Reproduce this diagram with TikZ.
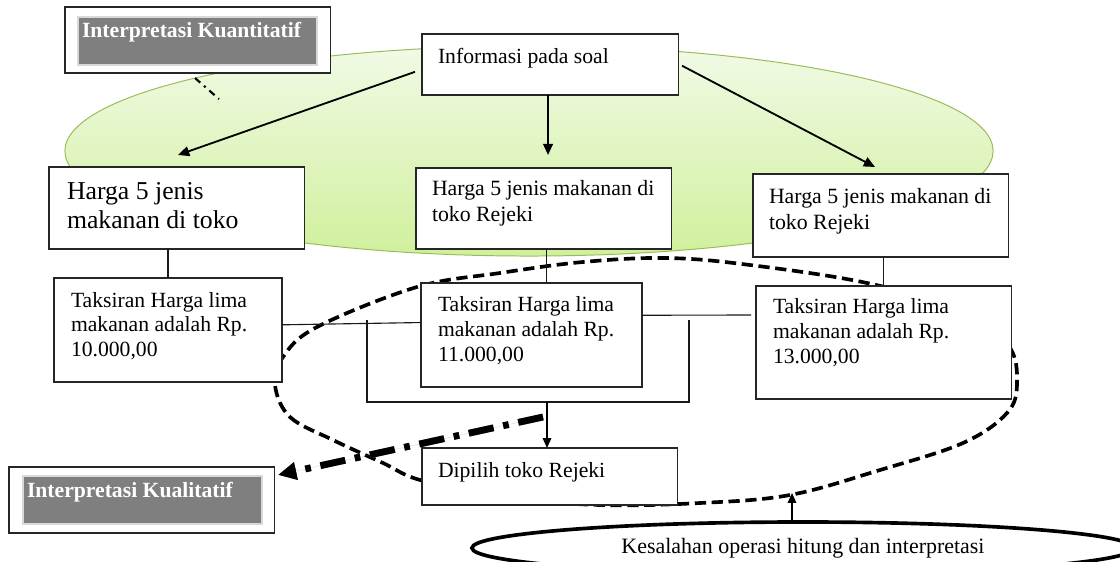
\documentclass[tikz,border=0pt]{standalone}
\usepackage{fontspec}
\setmainfont{Liberation Serif}
\usetikzlibrary{shapes.geometric,arrows.meta,calc}
\newlength{\px}\setlength{\px}{0.71131pt}
\newcommand{\bx}[5]{\parbox[c][#2\px][t]{#1\px}{\raggedright\leftskip=#3\px\relax\rule{0pt}{#4\px}#5\par}}
\definecolor{gborder}{HTML}{9BBB59}
\definecolor{gtop}{HTML}{F1FAE6}
\definecolor{gbot}{HTML}{D0F09C}
\definecolor{greyfill}{HTML}{7F7F7F}
\begin{document}
\begin{tikzpicture}[x=0.025cm, y=-0.025cm,
  box/.style={draw=black!85, fill=white, line width=0.8pt, inner sep=0pt, outer sep=0pt, anchor=north west},
  greybox/.style={fill=greyfill, draw=black!15, line width=0.8pt, inner sep=0pt, outer sep=0pt, anchor=north west, text=white, font=\fontsize{15.4pt}{17.6pt}\selectfont\bfseries},
  txt/.style={font=\fontsize{15.4pt}{17.6pt}\selectfont},
  conn/.style={line width=0.8pt, draw=black!90},
  arr/.style={line width=1.3pt, -{Triangle[length=8pt,width=7pt]}},
  thinarr/.style={line width=1.1pt, -{Triangle[length=7pt,width=6pt]}},
  dashloop/.style={line width=2.6pt, dash pattern=on 8pt off 4pt},
  dashdot/.style={line width=4.8pt, dash pattern=on 18pt off 7pt on 4pt off 7pt, -{Triangle[length=13pt,width=12pt]}}
]
\useasboundingbox (0,0) rectangle (1120,561);

% green background ellipse
\node[ellipse, draw=gborder, line width=0.7pt, top color=gtop, bottom color=gbot,
      minimum width=928\px, minimum height=210\px, inner sep=0pt] (bg) at (529,151) {};

% dashed loop
\draw[dashloop] plot[smooth cycle, tension=0.6] coordinates {(275,385) (290,417) (333,440) (383,463) (420,480) (500,497) (600,505) (700,503) (790,495) (880,470) (963,443) (1007,413) (1017,383) (1008,345) (960,310) (867,283) (750,265) (667,258) (583,262) (500,273) (417,287) (317,327) (283,357)};

% label boxes
\node[box] (kuan) at (65,7) {\bx{265}{66}{0}{0}{}};
\node[greybox] (kuanin) at (78,17) {\bx{239}{48}{4}{20}{Interpretasi Kuantitatif}};
\node[box] (kual) at (9,467) {\bx{265}{66}{0}{0}{}};
\node[greybox] (kualin) at (23,476) {\bx{239}{48}{4}{21}{Interpretasi Kualitatif}};

% main boxes
\node[box, txt] (info) at (422,34) {\bx{256}{61}{16}{29}{Informasi pada soal}};
\node[box, font=\fontsize{18.3pt}{21.3pt}\selectfont] (hl) at (49,167) {\bx{255}{82}{18}{32}{Harga 5 jenis\\makanan di toko}};
\node[box, font=\fontsize{15.5pt}{18.5pt}\selectfont] (hm) at (416,168) {\bx{255}{81}{16}{27}{Harga 5 jenis makanan di\\toko Rejeki}};
\node[box, font=\fontsize{15.5pt}{18.5pt}\selectfont] (hr) at (753,174) {\bx{255}{83}{16}{29}{Harga 5 jenis makanan di\\toko Rejeki}};
\node[box, font=\fontsize{15.4pt}{17.6pt}\selectfont] (tl) at (54,278) {\bx{228}{104}{17}{29}{Taksiran Harga lima\\makanan adalah Rp.\\10.000,00}};
\node[box, font=\fontsize{15.4pt}{17.8pt}\selectfont] (tm) at (421,283) {\bx{221}{104}{17}{28}{Taksiran Harga lima\\makanan adalah Rp.\\11.000,00}};
\node[box, font=\fontsize{15.4pt}{17.8pt}\selectfont] (tr) at (756,286) {\bx{255}{113}{17}{27}{Taksiran Harga lima\\makanan adalah Rp.\\13.000,00}};
\node[box, txt] (dp) at (422,448) {\bx{255}{57}{16}{29}{Dipilih toko Rejeki}};

% error ellipse
\node[ellipse, draw, line width=2.6pt, minimum width=662\px, minimum height=52\px, inner sep=0pt,
      font=\fontsize{15.6pt}{18pt}\selectfont] (kes) at (803,548) {Kesalahan operasi hitung dan interpretasi};

% arrows from Informasi
\draw[arr] ($(info.north west)!0.62!(info.south west)+(-7,0)$) -- ($(hl.north)+(1.5,-12)$);
\draw[arr] ($(info.south)+(-2,0)$) -- ($(hm.north)+(4.5,-13)$);
\draw[arr] ($(info.north east)!0.52!(info.south east)+(4,0)$) -- ($(hr.north)+(-5.5,-7)$);

% vertical connectors
\draw[conn] (tl.north) -- (tl.north |- hl.south);
\draw[conn] (hm.south) ++(3,0) coordinate (m1) -- (m1 |- tm.north);
\draw[conn] (tr.north) -- (tr.north |- hr.south);

% horizontal connectors
\draw[conn] ($(tl.north east)!0.45!(tl.south east)$) -- ($(tm.north west)!0.38!(tm.south west)$);
\coordinate (rend) at (751,315);
\draw[conn] ($(tm.north east)!0.31!(tm.south east)$) -- (rend);

% bracket
\coordinate (bl) at (367,320);
\coordinate (br) at (689,320);
\draw[conn] (bl) -- (367,402) -- (689,402) -- (br);
\coordinate (bk) at (547,402);
\draw[thinarr] (bk) -- (bk |- dp.north);

% arrow from error ellipse to loop
\coordinate (kesend) at (792,493);
\draw[thinarr] ($(kes.north)+(-11,0)$) -- (kesend);

% thick dash-dot arrow to Kualitatif
\coordinate (dd) at (543,417);
\draw[dashdot, draw=gray, fill=gray, xshift=1.5pt, yshift=-1.5pt] (dd) -- ($(kual.north east)!0.12!(kual.south east)+(4,0)$);
\draw[dashdot] (dd) -- ($(kual.north east)!0.12!(kual.south east)+(4,0)$);

% small dash-dot below Kuantitatif
\draw[line width=1.5pt, dash pattern=on 5pt off 3.5pt on 1.5pt off 3.5pt] ($(kuan.south west)+(130,5)$) -- ($(kuan.south west)+(154,26)$);
\end{tikzpicture}
\end{document}
